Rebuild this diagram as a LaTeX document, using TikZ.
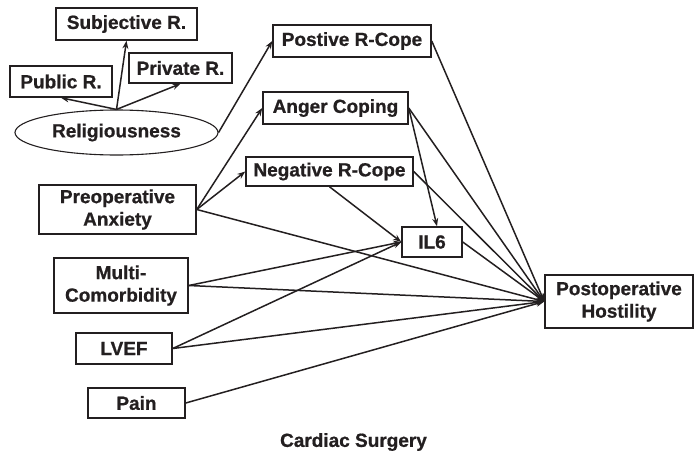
\documentclass[tikz,border=0pt]{standalone}
\usepackage{fontspec}
\setmainfont{Liberation Sans}
\newfontfamily\heavyfont[FakeBold=0.8]{Liberation Sans Bold}
\usetikzlibrary{shapes.geometric,arrows.meta,calc}
\definecolor{ink}{HTML}{231F20}
\begin{document}
\begin{tikzpicture}[x=1pt,y=-1pt,
  every node/.style={font=\heavyfont\fontsize{19}{22.5}\selectfont, text=ink},
  box/.style={draw=ink, line width=1.5pt, rectangle, inner sep=0pt, align=center},
  conn/.style={draw=ink, line width=1.5pt, -{Stealth[length=8pt,width=6pt]}}]
\useasboundingbox (0,0) rectangle (694,455);
\node[box, minimum width=141pt, minimum height=32pt] (subj) at (126.5,24) {Subjective R.};
\node[box, minimum width=102pt, minimum height=31pt] (pub) at (61,81.5) {Public R.};
\node[box, minimum width=103pt, minimum height=30pt] (priv) at (180.5,68) {Private R.};
\node[draw=ink, line width=1.1pt, ellipse, minimum width=203pt, minimum height=45pt, inner sep=0pt] (relig) at (116.5,132.5) {Religiousness};
\node[box, minimum width=158pt, minimum height=32pt] (pos) at (352,41) {Postive R-Cope};
\node[box, minimum width=145pt, minimum height=32pt] (anger) at (335.5,108) {Anger Coping};
\node[box, minimum width=167pt, minimum height=29pt] (neg) at (329.5,171.5) {Negative R-Cope};
\node[box, minimum width=60pt, minimum height=30pt] (il6) at (432,242) {IL6};
\node[box, minimum width=148pt, minimum height=53pt] (ph) at (619,301.5) {Postoperative\\Hostility};
\node[box, minimum width=157pt, minimum height=49pt] (preop) at (117.5,209.5) {Preoperative\\Anxiety};
\node[box, minimum width=134pt, minimum height=55pt] (multi) at (121,285.5) {Multi-\\Comorbidity};
\node[box, minimum width=96pt, minimum height=31pt] (lvef) at (124,348.5) {LVEF};
\node[box, minimum width=97pt, minimum height=30pt] (pain) at (136.5,403) {Pain};
\node (cs) at (353.5,442) {Cardiac Surgery};

\draw[conn] (relig.north) -- (subj.south);
\draw[conn] (relig.north) -- (pub.south);
\draw[conn] (relig.north) -- (priv.south);
\draw[conn] (relig.east) -- (pos.west);
\draw[conn] (preop.east) -- (anger.west);
\draw[conn] (preop.east) -- (neg.west);
\draw[conn] (preop.east) -- (ph.west);
\draw[conn] (anger.east) -- ($(il6.north)+(5,0)$);
\draw[conn] (neg.south) -- (il6.west);
\draw[conn] (multi.east) -- (il6.west);
\draw[conn] (lvef.east) -- (il6.west);
\draw[conn] (pos.east) -- (ph.west);
\draw[conn] (anger.east) -- (ph.west);
\draw[conn] (neg.east) -- (ph.west);
\draw[conn] (il6.east) -- (ph.west);
\draw[conn] (multi.east) -- (ph.west);
\draw[conn] (lvef.east) -- (ph.west);
\draw[conn] (pain.east) -- (ph.west);
\end{tikzpicture}
\end{document}
